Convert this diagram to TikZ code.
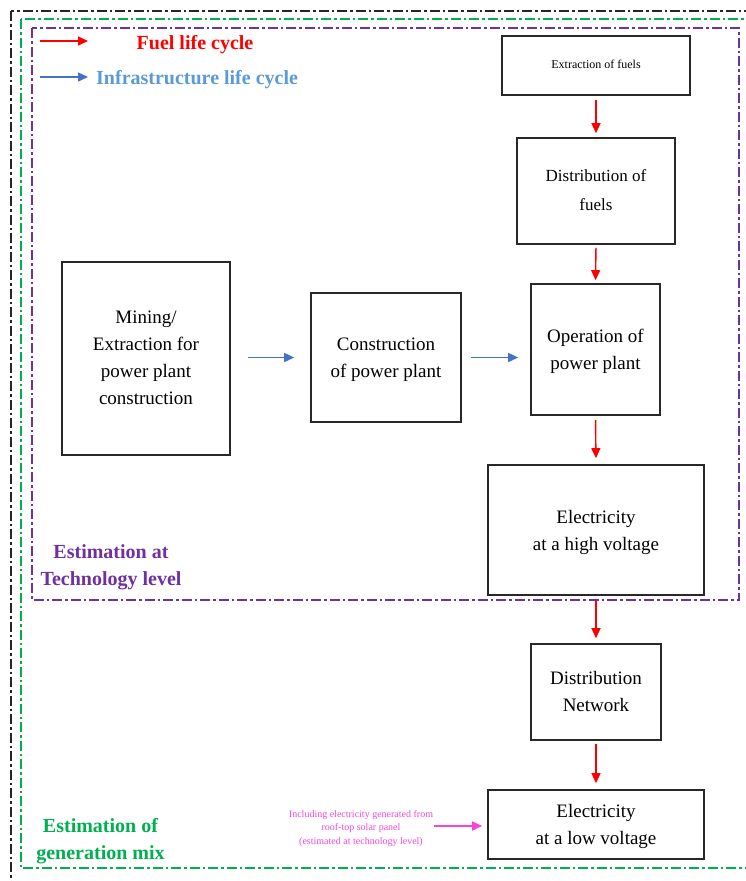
\documentclass[tikz,border=0pt]{standalone}
\usepackage{fontspec}
\setmainfont{Liberation Serif}
\usetikzlibrary{arrows.meta}
\definecolor{myred}{RGB}{255,0,0}
\definecolor{myblue}{RGB}{68,114,196}
\definecolor{lblue}{RGB}{91,155,213}
\definecolor{mygreen}{RGB}{0,176,80}
\definecolor{mypurple}{RGB}{112,48,160}
\definecolor{mypink}{RGB}{245,70,220}
\definecolor{boxgray}{RGB}{40,40,40}
\tikzset{
  stepbox/.style={draw=boxgray, line width=1.6pt, align=center, inner sep=2pt,
    text depth=-3pt, font=\fontsize{19}{27}\selectfont},
  dashdot/.style={line width=1.3pt, dash pattern=on 10pt off 3pt on 2.5pt off 3pt},
  redarr/.style={draw=myred, line width=1.4pt, -{Triangle[length=10pt,width=9pt]}},
  bluearr/.style={draw=myblue, line width=1.4pt, -{Triangle[length=10pt,width=9pt]}},
  pinkarr/.style={draw=mypink, line width=1.5pt, -{Triangle[length=10pt,width=9pt]}},
  lbl/.style={align=center, inner sep=0pt, font=\bfseries\fontsize{20}{27}\selectfont},
}
\begin{document}
\begin{tikzpicture}[x=1pt,y=-1pt]
\useasboundingbox (0,0) rectangle (746,881);
% frames
\draw[dashdot, black!85] (11,11) rectangle (770,900);
\draw[dashdot, mygreen] (21,19) rectangle (770,868);
\draw[dashdot, mypurple] (32,28) rectangle (739,600);

% boxes
\node[stepbox, minimum width=188pt, minimum height=59pt, text depth=2.5pt, font=\fontsize{12}{14}\selectfont] (ext) at (596,65.5) {Extraction of fuels};
\node[stepbox, minimum width=158pt, minimum height=106pt, text depth=2pt, font=\fontsize{17}{29}\selectfont] (dist) at (596,191) {Distribution of\\fuels};
\node[stepbox, minimum width=129pt, minimum height=131pt] (op) at (595.5,349.5) {Operation of\\power plant};
\node[stepbox, minimum width=216pt, minimum height=130pt] (high) at (596,530) {Electricity\\at a high voltage};
\node[stepbox, minimum width=130pt, minimum height=96pt, text depth=2pt] (net) at (596,692) {Distribution\\Network};
\node[stepbox, minimum width=216pt, minimum height=69pt] (low) at (596,824.5) {Electricity\\at a low voltage};
\node[stepbox, minimum width=168pt, minimum height=193pt, text depth=2pt] (mine) at (146,358.5) {Mining/\\Extraction for\\power plant\\construction};
\node[stepbox, minimum width=150pt, minimum height=129pt] (cons) at (386,357.5) {Construction\\of power plant};

% red arrows
\draw[redarr, shorten <=4pt, shorten >=4pt] (ext.south) -- (dist.north);
\draw[redarr, shorten <=3pt, shorten >=3pt] (dist.south) -- (op.north);
\draw[redarr, shorten <=4pt, shorten >=6pt] (op.south) -- (high.north);
\draw[redarr, shorten <=5pt, shorten >=5pt] (high.south) -- (net.north);
\draw[redarr, shorten <=3pt, shorten >=6pt] (net.south) -- (low.north);

% blue arrows
\draw[bluearr, shorten <=17pt, shorten >=16pt] (mine.east |- cons.west) -- (cons.west);
\draw[bluearr, shorten <=9pt, shorten >=12pt] (cons.east) -- (op.west |- cons.east);

% legend
\coordinate (lr1) at (40,41);
\coordinate (lr2) at (88,41);
\coordinate (lb1) at (40,77);
\coordinate (lb2) at (88,77);
\draw[redarr] (lr1) -- (lr2);
\draw[bluearr] (lb1) -- (lb2);
\node[lbl, text=myred] (fuel) at (195,45) {Fuel life cycle};
\node[lbl, text=lblue, anchor=west] (infra) at (96,80) {Infrastructure life cycle};

% level labels
\node[lbl, text=mypurple] (tech) at (111,567.5) {Estimation at\\Technology level};
\node[lbl, text=mygreen] (mix) at (100.5,841.5) {Estimation of\\generation mix};

% pink note
\node[align=center, text=mypink, inner sep=1pt, font=\fontsize{10}{13.5}\selectfont] (note) at (361,828.5) {Including electricity generated from\\roof-top solar panel\\(estimated at technology level)};
\coordinate (pk1) at (434,826);
\draw[pinkarr, shorten >=5pt] (pk1) -- (low.west |- pk1);
\end{tikzpicture}
\end{document}
